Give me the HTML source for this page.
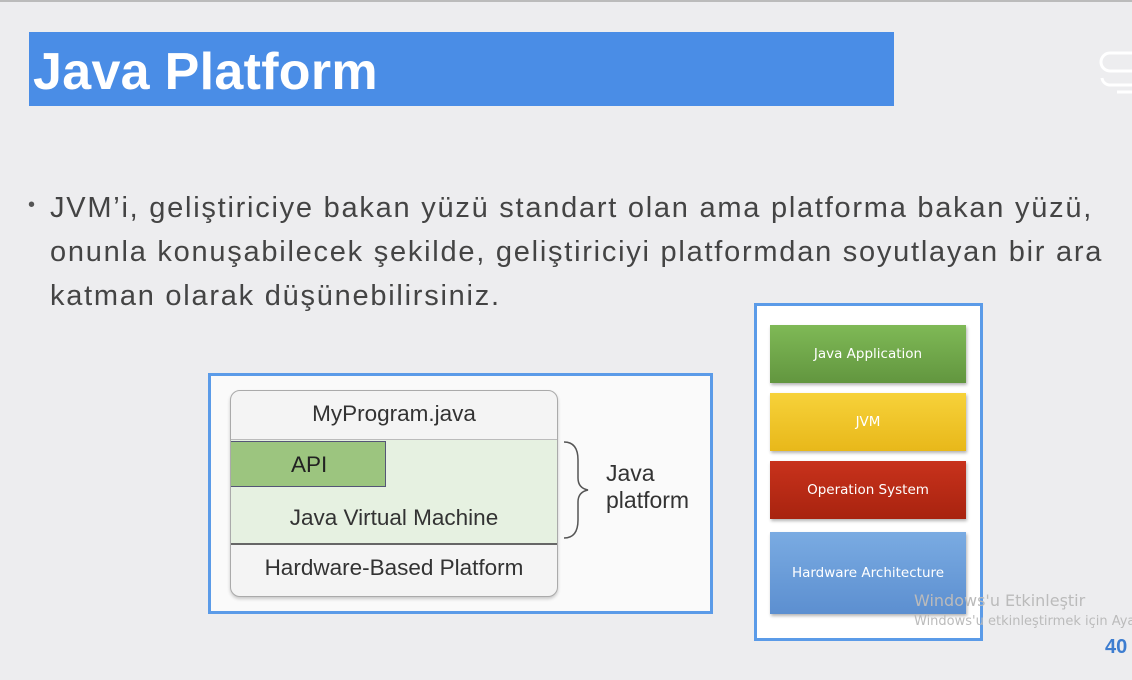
<!DOCTYPE html>
<html><head><meta charset="utf-8"><style>
body{margin:0;width:1132px;height:680px;background:#ededef;position:relative;overflow:hidden;font-family:"Liberation Sans",sans-serif}
.a{position:absolute}
.title{left:29px;top:32px;width:865px;height:74px;background:#4a8de6;color:#fff;font-weight:bold;font-size:52px;line-height:80px;padding-left:4px;box-sizing:border-box;letter-spacing:0.3px}
.txt{left:50px;top:186px;font-size:29px;line-height:44px;color:#444;width:1080px;letter-spacing:1.75px;white-space:nowrap}
.bar{left:770px;width:196px;color:#fff;display:flex;align-items:center;justify-content:center;box-shadow:1px 2px 3px rgba(0,0,0,.3);font-family:"DejaVu Sans",sans-serif;font-size:13.5px}
.d{font-size:22.5px;color:#333}
</style></head><body>
<div class="a" style="left:0;top:0;width:1132px;height:2px;background:#bbb"></div>
<div class="a title">Java Platform</div>
<svg class="a" style="left:1085px;top:40px" width="47" height="60"><path d="M47 13 H25 a9 9 0 0 0 0 18 H47 M17 38 a8 8 0 0 0 8 7 H47 M32 52 H47" stroke="#fff" stroke-width="3" fill="none"/></svg>
<div class="a" style="left:28px;top:194px;font-size:20px;color:#555">•</div>
<div class="a txt">JVM’i, geliştiriciye bakan yüzü standart olan ama platforma bakan yüzü,<br>onunla konuşabilecek şekilde, geliştiriciyi platformdan soyutlayan bir ara<br>katman olarak düşünebilirsiniz.</div>

<div class="a" style="left:208px;top:373px;width:505px;height:241px;box-sizing:border-box;border:3px solid #5b9be8;background:#fafafa"></div>
<div class="a" style="left:230px;top:390px;width:326px;height:205px;border:1px solid #aaa;border-radius:10px;background:#f4f4f4;overflow:hidden;box-shadow:0 2px 3px rgba(0,0,0,.2)">
 <div class="a d" style="left:0;top:0;width:326px;height:48px;border-bottom:1px solid #bbb;text-align:center;line-height:46px">MyProgram.java</div>
 <div class="a" style="left:0;top:49px;width:326px;height:103px;background:#e6f1e1;border-bottom:2px solid #666"></div>
 <div class="a d" style="left:0;top:50px;width:155px;height:46px;background:#9cc57f;border:1px solid #557;border-left:none;box-sizing:border-box;line-height:46px;padding-left:60px;color:#222">API</div>
 <div class="a d" style="left:0;top:114px;width:326px;text-align:center">Java Virtual Machine</div>
 <div class="a d" style="left:0;top:164px;width:326px;text-align:center">Hardware-Based Platform</div>
</div>
<svg class="a" style="left:560px;top:440px" width="30" height="100"><path d="M4 2 Q18 2 18 20 L18 38 Q18 48 28 50 Q18 52 18 62 L18 80 Q18 98 4 98" stroke="#555" stroke-width="1.5" fill="none"/></svg>
<div class="a" style="left:606px;top:460px;font-size:23px;line-height:27px;color:#333">Java<br>platform</div>

<div class="a" style="left:754px;top:303px;width:229px;height:338px;box-sizing:border-box;border:3px solid #5b9be8;background:#fff"></div>
<div class="a bar" style="top:325px;height:58px;background:linear-gradient(#7fb956,#62963f)">Java Application</div>
<div class="a bar" style="top:393px;height:58px;background:linear-gradient(#f7d23a,#e8b81a)">JVM</div>
<div class="a bar" style="top:461px;height:58px;background:linear-gradient(#c8321c,#a8230f)">Operation System</div>
<div class="a bar" style="top:532px;height:82px;background:linear-gradient(#7aabe2,#5c8fd0)">Hardware Architecture</div>

<div class="a" style="left:914px;top:591px;font-size:16px;color:#bbb;font-family:'DejaVu Sans',sans-serif">Windows'u Etkinleştir</div>
<div class="a" style="left:914px;top:614px;font-size:13px;color:#bbb;font-family:'DejaVu Sans',sans-serif;white-space:nowrap">Windows'u etkinleştirmek için Ayarlar</div>
<div class="a" style="left:1105px;top:636px;font-size:20px;font-weight:bold;color:#3d7dd0">40</div>
</body></html>
